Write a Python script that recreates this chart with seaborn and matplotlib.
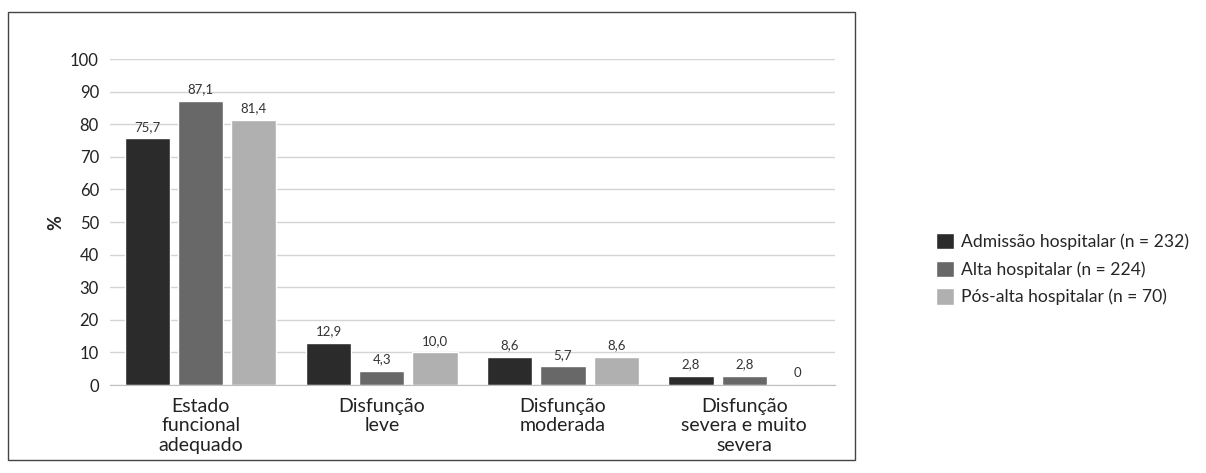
import matplotlib
matplotlib.use("Agg")
import matplotlib.pyplot as plt
import seaborn as sns
import pandas as pd
from matplotlib.patches import Rectangle

categories = ["Estado\nfuncional\nadequado", "Disfunção\nleve", "Disfunção\nmoderada",
              "Disfunção\nsevera e muito\nsevera"]
series = ["Admissão hospitalar (n = 232)", "Alta hospitalar (n = 224)", "Pós-alta hospitalar (n = 70)"]
admissao = [75.7, 12.9, 8.6, 2.8]
alta = [87.1, 4.3, 5.7, 2.8]
pos_alta = [81.4, 10.0, 8.6, 0.0]
colors = ["#2b2b2b", "#686868", "#b0b0b0"]

rows = []
for s, vals in zip(series, [admissao, alta, pos_alta]):
    for c, v in zip(categories, vals):
        rows.append({"Categoria": c, "Grupo": s, "Valor": v})
df = pd.DataFrame(rows)

sns.set_style("white")
plt.rcParams["font.family"] = ["Lato", "DejaVu Sans"]

fig = plt.figure(figsize=(12.06, 4.73), dpi=100)
ax = fig.add_axes([0.0912, 0.186, 0.601, 0.689])

sns.barplot(data=df, x="Categoria", y="Valor", hue="Grupo", palette=colors,
            width=0.88, gap=0.15, ax=ax, saturation=1, errorbar=None)

for cont in ax.containers:
    labels = [("0" if v == 0 else f"{v:.1f}".replace(".", ",")) for v in cont.datavalues]
    ax.bar_label(cont, labels=labels, padding=4, fontsize=9.5, color="#333333")

ax.set_ylim(0, 100)
ax.set_yticks(range(0, 101, 10))
ax.yaxis.grid(True, color="#d4d4d4", linewidth=1)
ax.set_axisbelow(True)
for side in ["left", "right", "top"]:
    ax.spines[side].set_visible(False)
ax.spines["bottom"].set_color("#bfbfbf")
ax.tick_params(axis="both", length=0, colors="#222222")
ax.tick_params(axis="y", labelsize=12, pad=8)
ax.tick_params(axis="x", labelsize=14, pad=9)
ax.set_xlabel("")
ax.set_ylabel("%", fontsize=13, fontweight="bold", labelpad=4)

ax.legend(loc="center left", bbox_to_anchor=(1.118, 0.355), frameon=False,
          fontsize=12.6, handlelength=1.05, handleheight=1.05, labelspacing=0.6,
          handletextpad=0.35)

fig.patches.append(Rectangle((8 / 1206, 1 - 460 / 473), 847 / 1206, 448 / 473,
                             transform=fig.transFigure, fill=False,
                             edgecolor="#444444", linewidth=1))

fig.savefig("out.png", dpi=100)
